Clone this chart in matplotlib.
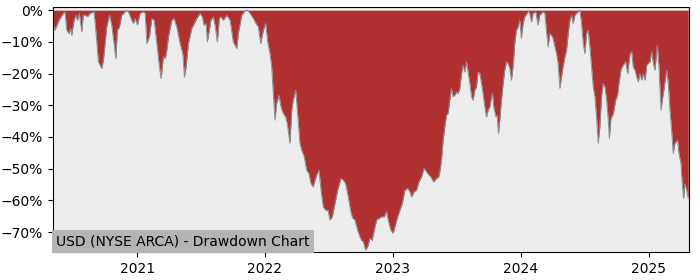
import matplotlib
matplotlib.use('Agg')
import matplotlib.pyplot as plt
import matplotlib.dates as mdates
from matplotlib.ticker import FuncFormatter
import pandas as pd

# drawdown readings (decimal year, percent below previous peak)
years = [
    2020.344, 2020.359, 2020.375, 2020.391, 2020.414, 2020.438, 2020.451, 2020.469,
    2020.482, 2020.490, 2020.508, 2020.523, 2020.534, 2020.549, 2020.568, 2020.580,
    2020.602, 2020.612, 2020.633, 2020.664, 2020.680, 2020.698, 2020.724, 2020.737,
    2020.763, 2020.784, 2020.802, 2020.820, 2020.834, 2020.846, 2020.862, 2020.880,
    2020.914, 2020.932, 2020.959, 2020.971, 2020.984, 2021.002, 2021.023, 2021.049,
    2021.063, 2021.076, 2021.096, 2021.115, 2021.133, 2021.154, 2021.174, 2021.188,
    2021.205, 2021.219, 2021.232, 2021.245, 2021.271, 2021.289, 2021.310, 2021.336,
    2021.357, 2021.370, 2021.383, 2021.401, 2021.427, 2021.466, 2021.492, 2021.510,
    2021.523, 2021.539, 2021.549, 2021.565, 2021.576, 2021.596, 2021.609, 2021.627,
    2021.643, 2021.656, 2021.674, 2021.701, 2021.727, 2021.752, 2021.779, 2021.791,
    2021.818, 2021.844, 2021.862, 2021.883, 2021.909, 2021.930, 2021.948, 2021.966,
    2021.987, 2022.005, 2022.021, 2022.039, 2022.052, 2022.065, 2022.078, 2022.091,
    2022.109, 2022.125, 2022.143, 2022.162, 2022.174, 2022.195, 2022.209, 2022.221,
    2022.240, 2022.255, 2022.273, 2022.287, 2022.307, 2022.326, 2022.344, 2022.359,
    2022.377, 2022.391, 2022.404, 2022.422, 2022.438, 2022.455, 2022.474, 2022.492,
    2022.508, 2022.526, 2022.547, 2022.568, 2022.594, 2022.612, 2022.630, 2022.651,
    2022.668, 2022.684, 2022.703, 2022.724, 2022.742, 2022.755, 2022.768, 2022.787,
    2022.802, 2022.820, 2022.838, 2022.854, 2022.873, 2022.891, 2022.912, 2022.932,
    2022.951, 2022.963, 2022.984, 2023.002, 2023.016, 2023.037, 2023.055, 2023.073,
    2023.094, 2023.115, 2023.133, 2023.146, 2023.166, 2023.185, 2023.203, 2023.224,
    2023.244, 2023.263, 2023.281, 2023.297, 2023.318, 2023.341, 2023.359, 2023.371,
    2023.380, 2023.393, 2023.406, 2023.419, 2023.432, 2023.445, 2023.458, 2023.471,
    2023.484, 2023.498, 2023.510, 2023.523, 2023.537, 2023.549, 2023.563, 2023.576,
    2023.588, 2023.602, 2023.615, 2023.627, 2023.641, 2023.654, 2023.666, 2023.680,
    2023.693, 2023.705, 2023.719, 2023.732, 2023.745, 2023.758, 2023.771, 2023.779,
    2023.789, 2023.805, 2023.815, 2023.826, 2023.836, 2023.849, 2023.862, 2023.875,
    2023.888, 2023.901, 2023.914, 2023.927, 2023.940, 2023.953, 2023.966, 2023.979,
    2023.992, 2024.005, 2024.018, 2024.031, 2024.049, 2024.065, 2024.084, 2024.096,
    2024.117, 2024.135, 2024.148, 2024.174, 2024.188, 2024.201, 2024.213, 2024.227,
    2024.240, 2024.252, 2024.266, 2024.279, 2024.291, 2024.305, 2024.318, 2024.330,
    2024.344, 2024.357, 2024.370, 2024.383, 2024.396, 2024.409, 2024.422, 2024.435,
    2024.448, 2024.461, 2024.474, 2024.487, 2024.500, 2024.513, 2024.526, 2024.539,
    2024.552, 2024.565, 2024.578, 2024.591, 2024.604, 2024.617, 2024.630, 2024.643,
    2024.656, 2024.670, 2024.682, 2024.691, 2024.703, 2024.722, 2024.740, 2024.755,
    2024.766, 2024.781, 2024.791, 2024.807, 2024.818, 2024.834, 2024.852, 2024.865,
    2024.877, 2024.891, 2024.904, 2024.916, 2024.930, 2024.943, 2024.955, 2024.969,
    2024.982, 2024.994, 2025.008, 2025.021, 2025.034, 2025.047, 2025.065, 2025.078,
    2025.094, 2025.104, 2025.120, 2025.138, 2025.151, 2025.164, 2025.177, 2025.190,
    2025.203, 2025.224, 2025.234, 2025.250, 2025.260, 2025.271, 2025.281, 2025.295,
    2025.307,
]

drawdown = [
    -4.2, -6.3, -4.7, -3.2, -1.6, -0.5, -6.3, -7.4,
    -5.8, -8.0, -3.2, -1.6, -3.2, -1.0, -6.8, -1.6,
    -1.6, -2.1, -1.0, -0.5, -7.4, -16.3, -18.4, -15.8,
    -5.3, -1.6, -4.7, -10.5, -15.3, -6.3, -5.3, -1.6,
    -0.2, -0.5, -3.2, -4.2, -2.6, -4.7, -1.0, -0.5,
    -1.0, -10.5, -8.4, -2.6, -3.2, -10.5, -17.9, -21.6,
    -14.7, -15.3, -12.6, -8.4, -3.2, -2.6, -5.3, -10.5,
    -13.7, -21.1, -17.9, -10.5, -5.8, -2.6, -1.0, -2.1,
    -4.7, -4.2, -10.0, -6.3, -3.2, -2.1, -4.7, -10.0,
    -2.6, -2.1, -3.2, -1.6, -3.2, -10.0, -12.1, -7.4,
    -1.6, -0.2, 0.0, -1.0, -2.6, -4.2, -5.3, -10.5,
    -6.3, -4.2, -10.0, -13.7, -17.9, -26.2, -34.7, -29.4,
    -26.8, -30.5, -32.6, -33.7, -35.8, -42.0, -31.5, -28.4,
    -25.2, -32.6, -42.0, -44.2, -46.3, -50.5, -51.6, -54.7,
    -55.8, -53.6, -52.0, -50.5, -56.8, -62.0, -63.1, -63.1,
    -66.2, -65.2, -61.0, -56.8, -53.1, -53.6, -54.7, -58.9,
    -63.0, -65.5, -66.2, -69.4, -71.5, -72.6, -73.0, -75.7,
    -74.7, -72.0, -72.6, -69.4, -66.2, -65.7, -65.2, -65.2,
    -63.6, -66.2, -69.4, -70.4, -68.3, -65.2, -63.1, -61.0,
    -56.8, -56.2, -57.3, -58.9, -57.3, -56.8, -54.2, -52.6,
    -49.9, -51.0, -52.0, -52.6, -54.2, -53.1, -52.6, -50.0,
    -47.3, -41.0, -36.8, -33.1, -32.6, -28.4, -24.7, -27.3,
    -26.8, -25.8, -26.3, -24.7, -20.0, -17.4, -19.5, -16.3,
    -19.5, -23.1, -27.3, -28.4, -25.2, -24.2, -19.5, -20.0,
    -23.1, -26.3, -30.5, -33.7, -31.5, -30.5, -27.3, -26.3,
    -30.5, -33.7, -33.1, -38.9, -34.7, -28.4, -23.1, -18.9,
    -16.3, -16.8, -18.4, -22.1, -17.9, -10.5, -6.3, -5.3,
    -3.2, -8.9, -4.2, -2.1, -1.0, -0.2, -3.7, -1.0,
    -0.5, -4.7, -1.6, -0.5, -1.0, -6.8, -11.6, -7.4,
    -7.9, -8.9, -11.6, -13.7, -16.8, -24.7, -21.0, -17.9,
    -14.7, -12.6, -7.4, -3.2, -1.6, -4.2, -1.6, -1.0,
    -0.5, 0.0, -4.2, -10.5, -13.7, -7.4, -6.3, -11.6,
    -17.9, -24.2, -27.3, -33.7, -42.0, -36.8, -27.3, -23.1,
    -24.2, -28.5, -34.5, -40.5, -34.2, -32.6, -28.4, -26.8,
    -23.1, -18.9, -17.9, -16.8, -16.3, -20.0, -13.7, -13.1,
    -17.9, -18.9, -21.0, -22.6, -20.0, -22.1, -20.0, -22.1,
    -17.4, -16.8, -16.3, -13.1, -16.8, -18.9, -11.0, -17.9,
    -31.5, -28.4, -24.2, -18.9, -23.1, -31.5, -37.9, -45.2,
    -42.0, -41.0, -45.2, -48.4, -54.7, -59.4, -54.7, -56.8,
    -59.4,
]

title_text = "USD (NYSE ARCA) - Drawdown Chart"


def to_date(y):
    yr = int(y)
    start = pd.Timestamp(yr, 1, 1)
    span = (pd.Timestamp(yr + 1, 1, 1) - start).days
    return start + pd.Timedelta(days=(y - yr) * span)


dates = [to_date(y) for y in years]

fig = plt.figure(figsize=(7, 2.8), dpi=100)
ax = fig.add_axes([0.0757, 0.1, 0.908, 0.875])
ax.set_facecolor('#ececec')

ax.fill_between(dates, drawdown, 0, color='#b03030', lw=0)
ax.plot(dates, drawdown, color='#8a8f93', lw=0.7)

ax.set_xlim(to_date(2020.344), to_date(2025.31))
ax.set_ylim(-76.3, 1.0)
ax.set_yticks([0, -10, -20, -30, -40, -50, -60, -70])
ax.yaxis.set_major_formatter(FuncFormatter(lambda v, p: f'{v:.0f}%'.replace('-', '\u2212')))
ax.xaxis.set_major_locator(mdates.YearLocator())
ax.xaxis.set_major_formatter(mdates.DateFormatter('%Y'))

ax.text(0.005, 0.014, title_text, transform=ax.transAxes, fontsize=10,
        ha='left', va='bottom',
        bbox=dict(facecolor='#b4b4b4', edgecolor='none', pad=3))

fig.savefig('out.png', dpi=100)
